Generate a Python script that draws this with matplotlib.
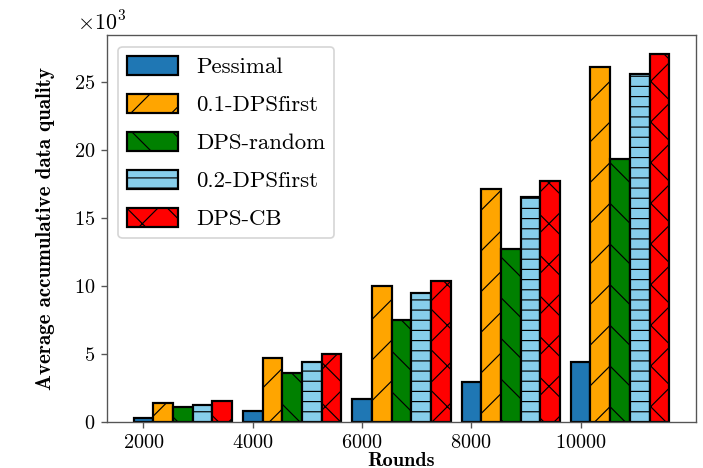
import numpy as np
import matplotlib
matplotlib.use('Agg')
import matplotlib.pyplot as plt

# Computer Modern look (fonts bundled with matplotlib)
plt.rcParams['font.family'] = 'serif'
plt.rcParams['font.serif'] = ['cmr10']
plt.rcParams['mathtext.fontset'] = 'cm'
plt.rcParams['axes.formatter.use_mathtext'] = True
plt.rcParams['axes.unicode_minus'] = False
plt.rcParams['hatch.linewidth'] = 0.7

ROUNDS = [2000, 4000, 6000, 8000, 10000]
SERIES = ['Pessimal', '0.1-DPSfirst', 'DPS-random', '0.2-DPSfirst', 'DPS-CB']
pessimal = [300, 810, 1690, 2900, 4390]
dps_first_01 = [1400, 4710, 9960, 17100, 26120]
dps_random = [1100, 3600, 7460, 12730, 19350]
dps_first_02 = [1230, 4370, 9450, 16530, 25580]
dps_cb = [1520, 4980, 10350, 17730, 27080]

values = [pessimal, dps_first_01, dps_random, dps_first_02, dps_cb]
colors = ['#1f77b4', 'orange', 'green', 'skyblue', 'red']
hatches = ['', '/', '\\', '--', 'x']
width = 360

DPI = 122
fig = plt.figure(figsize=(703 / DPI, 468 / DPI), dpi=DPI)
ax = fig.add_axes([0.152, 0.099, 0.838, 0.826])

x = np.array(ROUNDS)
for i, (name, vals) in enumerate(zip(SERIES, values)):
    ax.bar(x + i * width, vals, width=width, color=colors[i], hatch=hatches[i],
           edgecolor='black', linewidth=1.3, label=name)

ax.set_xticks(ROUNDS)
ax.ticklabel_format(axis='y', style='sci', scilimits=(3, 3))
ax.tick_params(labelsize=12, color='#555555')
ax.yaxis.get_offset_text().set_fontsize(13)
ax.yaxis.get_offset_text().set_x(-0.05)
for s in ax.spines.values():
    s.set_color('#555555')
    s.set_linewidth(0.8)

ax.set_xlabel('Rounds', fontsize=12, family='cmb10', labelpad=0)
ax.set_ylabel('Average accumulative data quality', fontsize=12.4, family='cmb10', labelpad=11)

ax.legend(loc='upper left', fontsize=13.5, handlelength=2.2, handleheight=0.92,
          labelspacing=0.72)

fig.savefig('out.png', dpi=DPI)
